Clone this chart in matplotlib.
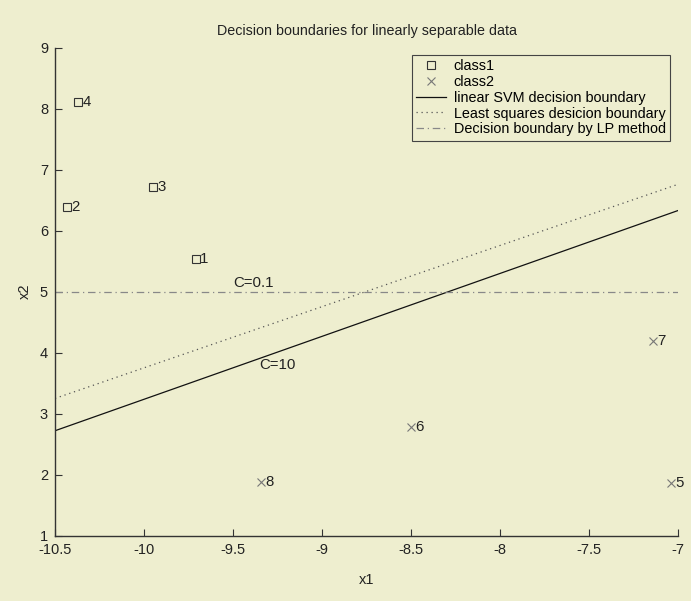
import matplotlib

matplotlib.use("Agg")
import matplotlib.pyplot as plt  # noqa: E402
import numpy as np  # noqa: E402

# class1 (squares) and class2 (crosses)
class1_x = [-9.71, -10.43, -9.95, -10.37]
class1_y = [5.54, 6.38, 6.72, 8.11]
class1_ids = ["1", "2", "3", "4"]

class2_x = [-7.04, -8.50, -7.14, -9.34]
class2_y = [1.87, 2.78, 4.19, 1.88]
class2_ids = ["5", "6", "7", "8"]

# boundary lines given by their end points at x = -10.5 and x = -7
line_x = [-10.5, -7.0]
svm_y = [2.72, 6.33]
ls_y = [3.25, 6.76]
lp_y = [5.0, 5.0]

BG = "#eeeecf"
INK = "#222222"

plt.rcParams["font.family"] = ["Liberation Sans", "DejaVu Sans"]
plt.rcParams["font.size"] = 10.5

fig = plt.figure(figsize=(6.91, 6.01), dpi=100, facecolor=BG)
ax = fig.add_axes([0.0796, 0.1087, 0.9016, 0.812], facecolor=BG)

ax.plot(class1_x, class1_y, linestyle="none", marker="s", markersize=5.5,
        markerfacecolor="none", markeredgecolor="#333333", markeredgewidth=0.8,
        label="class1")
ax.plot(class2_x, class2_y, linestyle="none", marker="x", markersize=5.5,
        color="#777777", markeredgewidth=0.8, label="class2")
for xs, ys, ids in ((class1_x, class1_y, class1_ids), (class2_x, class2_y, class2_ids)):
    for x, y, s in zip(xs, ys, ids):
        ax.annotate(s, (x, y), xytext=(3, 0), textcoords="offset points",
                    ha="left", va="center", color=INK, fontsize=10.8)

ax.plot(line_x, svm_y, color="#111111", linewidth=0.9,
        label="linear SVM decision boundary")
ax.plot(line_x, ls_y, color="#555555", linewidth=0.9, linestyle=(0, (1, 3)),
        label="Least squares desicion boundary")
ax.plot(line_x, lp_y, color="#888888", linewidth=0.9, linestyle=(0, (6, 3, 1, 3)),
        label="Decision boundary by LP method")

ax.text(-9.5, 5.03, "C=0.1", ha="left", va="bottom", color=INK, fontsize=10.8)
ax.text(-9.35, 3.8, "C=10", ha="left", va="center", color=INK, fontsize=10.8)

ax.set_xlim(-10.5, -7)
ax.set_ylim(1, 9)
ax.set_xticks(np.arange(-10.5, -6.99, 0.5))
ax.set_xticklabels(["-10.5", "-10", "-9.5", "-9", "-8.5", "-8", "-7.5", "-7"])
ax.set_yticks(range(1, 10))
ax.tick_params(direction="in", length=5, width=0.8, color="#333333",
               labelcolor=INK, pad=5)
for side in ("top", "right"):
    ax.spines[side].set_visible(False)
for side in ("left", "bottom"):
    ax.spines[side].set_color("#333333")
    ax.spines[side].set_linewidth(1.0)

ax.set_title("Decision boundaries for linearly separable data", color=INK,
             fontsize=10.3, pad=9)
ax.set_xlabel("x1", color=INK, labelpad=12)
ax.set_ylabel("x2", color=INK, labelpad=6)

leg = ax.legend(loc="upper right", bbox_to_anchor=(0.987, 0.985), fontsize=10.4,
                frameon=True, fancybox=False, edgecolor="#444444",
                facecolor=BG, framealpha=1, handlelength=2.1,
                borderpad=0.3, labelspacing=0.12, handletextpad=0.5,
                borderaxespad=0)
leg.get_frame().set_linewidth(0.8)

fig.savefig("out.png", dpi=100, facecolor=BG)
